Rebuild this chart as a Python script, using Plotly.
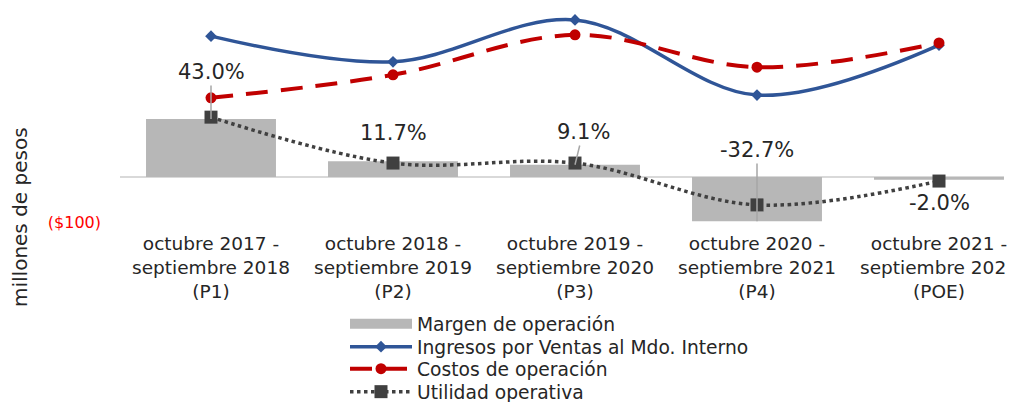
import plotly.graph_objects as go

categories = [
    "octubre 2017 -<br>septiembre 2018<br>(P1)",
    "octubre 2018 -<br>septiembre 2019<br>(P2)",
    "octubre 2019 -<br>septiembre 2020<br>(P3)",
    "octubre 2020 -<br>septiembre 2021<br>(P4)",
    "octubre 2021 -<br>septiembre 2022<br>(POE)",
]
margen_pct = [43.0, 11.7, 9.1, -32.7, -2.0]          # Margen de operación (%)
ingresos = [313, 256, 349, 182, 293]                 # millones de pesos
costos = [176, 227, 316, 244, 298]
utilidad = [133, 31, 31, -62, -9]
margen_labels = ["43.0%", "11.7%", "9.1%", "-32.7%", "-2.0%"]

OFF = 8  # page body margin
W, H = 1015 - OFF, 402 - OFF


def fx(px):
    return px - OFF


def fy(py):
    return py - OFF


PLOT_L, PLOT_R, PLOT_T, PLOT_B = fx(120), fx(1004), 0, fy(230)
ZERO_PX = fy(177)
MIL_PER_PX = 1 / 0.45
PCT_PER_PX = 1 / 1.35

mil_top = (ZERO_PX - PLOT_T) * MIL_PER_PX
mil_bot = -(PLOT_B - ZERO_PX) * MIL_PER_PX
pct_top = (ZERO_PX - PLOT_T) * PCT_PER_PX
pct_bot = -(PLOT_B - ZERO_PX) * PCT_PER_PX
cat_px = 182
x_max = 4.5 - (PLOT_L + 5 * cat_px - PLOT_R) / cat_px

xs = list(range(len(categories)))
FONT = "DejaVu Sans"
TXT = "#262626"

fig = go.Figure()
# bars on the base (percentage) axis, lines on the overlaying (millions) axis
fig.add_trace(go.Bar(
    x=xs, y=margen_pct, yaxis="y", name="Margen de operación", showlegend=False,
    marker=dict(color="#B7B7B7", line=dict(width=0)), width=0.714,
))
# legend entry for the bars, drawn as a wide grey swatch
fig.add_trace(go.Scatter(
    x=[None], y=[None], name="Margen de operación", mode="lines", yaxis="y",
    line=dict(color="#B7B7B7", width=12), legend="legend",
))
fig.add_trace(go.Scatter(
    x=xs, y=ingresos, name="Ingresos por Ventas al Mdo. Interno", yaxis="y2",
    mode="lines+markers", line=dict(color="#2F5597", width=3.5, shape="spline"),
    marker=dict(symbol="diamond", size=9, color="#2F5597"), cliponaxis=False,
    legend="legend2",
))
fig.add_trace(go.Scatter(
    x=xs, y=costos, name="Costos de operación", yaxis="y2",
    mode="lines+markers", line=dict(color="#C00000", width=4, shape="spline", dash="22px,13px"),
    marker=dict(symbol="circle", size=11, color="#C00000"), cliponaxis=False,
    legend="legend3",
))
fig.add_trace(go.Scatter(
    x=xs, y=utilidad, name="Utilidad operativa", yaxis="y2",
    mode="lines+markers", line=dict(color="#404040", width=3.5, shape="spline", dash="dot"),
    marker=dict(symbol="square", size=13, color="#404040"), cliponaxis=False,
    legend="legend4",
))

# data labels for the margin (text centre in page pixels)
label_px = [(0, 72, True), (0, 133, False), (8, 132, True), (0, 150, True), (0, 203, False)]
for i, (dx, ty, arrow) in enumerate(label_px):
    v = margen_pct[i]
    tip_px = ZERO_PX - v / PCT_PER_PX
    ty = fy(ty)
    if arrow:
        fig.add_annotation(
            x=xs[i], y=v, xref="x", yref="y", text=margen_labels[i],
            showarrow=True, arrowhead=0, arrowwidth=1.5, arrowcolor="#A6A6A6",
            ax=dx, ay=ty - tip_px, font=dict(family=FONT, size=21, color=TXT),
        )
    else:
        fig.add_annotation(
            x=xs[i], y=v, xref="x", yref="y", text=margen_labels[i],
            showarrow=False, yshift=tip_px - ty, xshift=dx,
            font=dict(family=FONT, size=21, color=TXT),
        )

pw = PLOT_R - PLOT_L
ph = PLOT_B - PLOT_T
fig.add_annotation(
    text="millones de pesos", textangle=-90, showarrow=False,
    xref="paper", yref="paper", x=(fx(20) - PLOT_L) / pw, y=1 - (fy(217) - PLOT_T) / ph,
    xanchor="center", yanchor="middle",
    font=dict(family=FONT, size=20, color=TXT),
)

legend_rows = [324, 347, 369, 392]
legend_common = dict(
    xref="container", yref="container", x=fx(345) / W,
    xanchor="left", yanchor="middle", orientation="v",
    font=dict(family=FONT, size=18.7, color=TXT),
    itemwidth=62, bgcolor="rgba(0,0,0,0)",
)
legends = {}
for k, row in enumerate(legend_rows):
    key = "legend" if k == 0 else f"legend{k + 1}"
    legends[key] = dict(legend_common, y=1 - fy(row) / H)

fig.update_layout(
    width=W, height=H,
    margin=dict(l=PLOT_L, r=W - PLOT_R, t=PLOT_T, b=H - PLOT_B, pad=0, autoexpand=False),
    paper_bgcolor="white", plot_bgcolor="white",
    font=dict(family=FONT, color=TXT),
    showlegend=True,
    xaxis=dict(
        range=[-0.5, x_max], tickvals=xs, ticktext=categories, showgrid=False,
        zeroline=False, showline=False, ticks="", automargin=False,
        ticklabeloverflow="allow",
        tickfont=dict(family=FONT, size=18.5, color=TXT),
    ),
    yaxis=dict(
        range=[pct_bot, pct_top], showticklabels=False,
        showgrid=False, zeroline=True, zerolinecolor="#D9D9D9", zerolinewidth=2,
        showline=False, ticks="", automargin=False,
    ),
    yaxis2=dict(
        range=[mil_bot, mil_top], overlaying="y", side="left",
        tickvals=[-100], ticktext=["($100)"], showgrid=False,
        zeroline=False, showline=False, ticks="", ticklabelstandoff=18, automargin=False,
        tickfont=dict(family=FONT, size=16, color="#FF0000"),
    ),
    bargap=0.3,
    **legends,
)

fig.write_html("out.html")
